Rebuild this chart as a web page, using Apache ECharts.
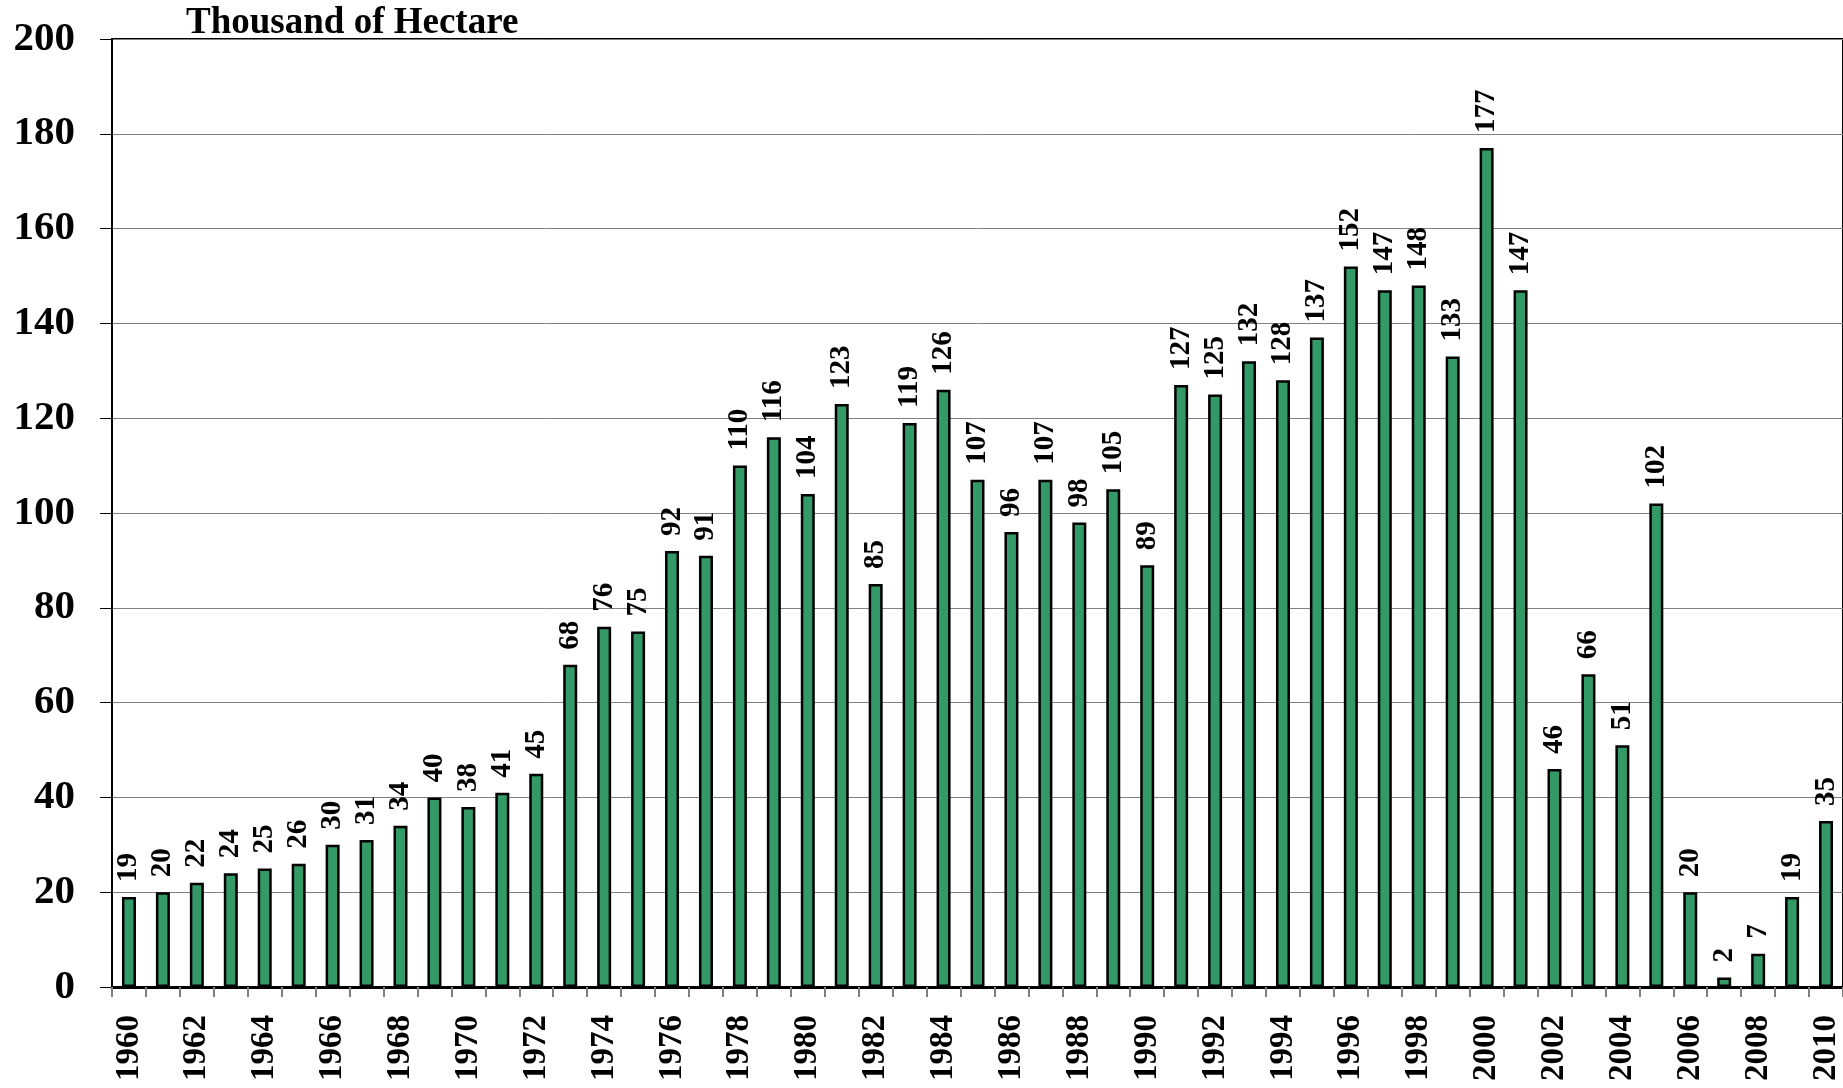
<!DOCTYPE html>
<html>
<head>
<meta charset="utf-8">
<title>Thousand of Hectare</title>
<script src="https://cdn.jsdelivr.net/npm/echarts@6/dist/echarts.min.js"></script>
<style>
    html, body { margin: 0; padding: 0; background: #fff; }
    #container { width: 1843px; height: 1088px; }
</style>
</head>
<body>
<div id="container"></div>
<script>
var years = [];
for (var y = 1960; y <= 2010; y++) {
    years.push(String(y));
}
var areas = [19, 20, 22, 24, 25, 26, 30, 31, 34, 40,
             38, 41, 45, 68, 76, 75, 92, 91, 110, 116,
             104, 123, 85, 119, 126, 107, 96, 107, 98, 105,
             89, 127, 125, 132, 128, 137, 152, 147, 148, 133,
             177, 147, 46, 66, 51, 102, 20, 2, 7, 19,
             35];
var yTicks = { min: 0, max: 200, step: 20 };

var font = 'Liberation Serif';

var dom = document.getElementById("container");
var myChart = echarts.init(dom);

var option = {
    animation: false,
    title: {
        text: 'Thousand of Hectare',
        left: 181,
        top: 0,
        textStyle: {
            fontFamily: font,
            fontWeight: 'bold',
            fontSize: 37,
            color: '#000'
        }
    },
    grid: {
        left: 112,
        top: 39,
        width: 1734,
        bottom: 101,
        show: true,
        borderColor: '#000',
        borderWidth: 2
    },
    xAxis: {
        type: 'category',
        data: years,
        axisLine: { lineStyle: { color: '#000', width: 3 } },
        axisTick: { show: true, interval: 0, length: 10, lineStyle: { color: '#808080', width: 2 } },
        axisLabel: {
            interval: 1,
            rotate: 90,
            margin: 28,
            fontFamily: font,
            fontWeight: 'bold',
            fontSize: 33,
            color: '#000'
        }
    },
    yAxis: {
        type: 'value',
        min: yTicks.min,
        max: yTicks.max,
        interval: yTicks.step,
        axisLine: { show: true, lineStyle: { color: '#000', width: 2 } },
        axisTick: { show: true, length: 12, lineStyle: { color: '#000', width: 1 } },
        splitLine: { lineStyle: { color: '#808080', width: 1 } },
        axisLabel: {
            margin: 37,
            fontFamily: font,
            fontWeight: 'bold',
            fontSize: 41,
            color: '#000'
        }
    },
    series: [{
        type: 'bar',
        data: areas,
        barWidth: 14,
        itemStyle: {
            color: '#339966',
            borderColor: '#000',
            borderWidth: 2.5
        },
        label: {
            show: true,
            position: 'top',
            rotate: 90,
            align: 'left',
            verticalAlign: 'middle',
            distance: 15,
            fontFamily: font,
            fontWeight: 'bold',
            fontSize: 29,
            color: '#000'
        }
    }]
};
myChart.setOption(option, true);
</script>
</body>
</html>
